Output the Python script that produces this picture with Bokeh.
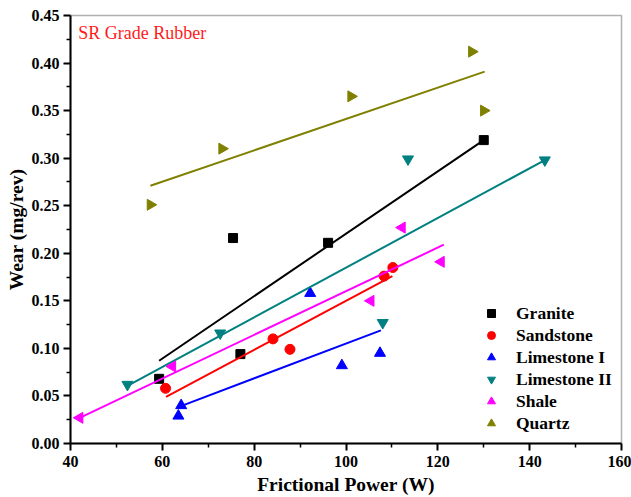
from bokeh.plotting import figure
from bokeh.models import Legend, LegendItem, Range1d, Label, FixedTicker, CustomJSTickFormatter
from bokeh.embed import file_html
from bokeh.resources import INLINE

# ---- data ----
granite_x = [59.3, 75.4, 77.0, 96.1, 130.0]
granite_y = [0.068, 0.216, 0.094, 0.211, 0.319]
granite_fit_x = [59.3, 130.0]
granite_fit_y = [0.087, 0.319]

sandstone_x = [60.7, 84.1, 87.8, 108.3, 110.2]
sandstone_y = [0.058, 0.110, 0.099, 0.176, 0.185]
sandstone_fit_x = [60.8, 110.1]
sandstone_fit_y = [0.049, 0.176]

lime1_x = [63.5, 64.1, 92.2, 99.1, 107.4]
lime1_y = [0.029, 0.040, 0.158, 0.082, 0.095]
lime1_fit_x = [63.9, 107.6]
lime1_fit_y = [0.039, 0.119]

lime2_x = [52.4, 72.6, 108.0, 113.5, 143.3]
lime2_y = [0.062, 0.116, 0.127, 0.299, 0.298]
lime2_fit_x = [52.6, 143.3]
lime2_fit_y = [0.061, 0.298]

shale_x = [42.0, 62.2, 105.4, 112.2, 120.7]
shale_y = [0.027, 0.081, 0.150, 0.227, 0.191]
shale_fit_x = [42.0, 121.3]
shale_fit_y = [0.027, 0.209]

quartz_x = [57.4, 73.0, 101.1, 127.4, 130.0]
quartz_y = [0.251, 0.310, 0.365, 0.412, 0.350]
quartz_fit_x = [57.4, 130.2]
quartz_fit_y = [0.271, 0.391]

x_ticks = [40, 60, 80, 100, 120, 140, 160]
x_minor = [50, 70, 90, 110, 130, 150]
y_ticks = [0.00, 0.05, 0.10, 0.15, 0.20, 0.25, 0.30, 0.35, 0.40, 0.45]
y_minor = [0.025, 0.075, 0.125, 0.175, 0.225, 0.275, 0.325, 0.375, 0.425]

SERIF = "Liberation Serif"

p = figure(width=631, height=497, output_backend="svg", toolbar_location=None,
           x_range=Range1d(40, 160), y_range=Range1d(0, 0.45),
           min_border_left=70, min_border_right=10, min_border_top=15, min_border_bottom=53)
p.xgrid.visible = False
p.ygrid.visible = False
p.outline_line_color = "#b0b0b0"
p.outline_line_width = 1.5
p.background_fill_color = "white"
p.border_fill_color = "white"

for ax in (p.xaxis[0], p.yaxis[0]):
    ax.axis_line_color = "black"
    ax.axis_line_width = 2
    ax.major_tick_line_color = "black"
    ax.major_tick_line_width = 2
    ax.minor_tick_line_color = "black"
    ax.minor_tick_line_width = 1.5
    ax.major_tick_out = 7
    ax.major_tick_in = 0
    ax.minor_tick_out = 4
    ax.minor_tick_in = 0
    ax.major_label_text_font = SERIF
    ax.major_label_text_font_style = "bold"
    ax.major_label_text_font_size = "16px"
    ax.major_label_text_color = "black"
    ax.axis_label_text_font = SERIF
    ax.axis_label_text_font_style = "bold"
    ax.axis_label_text_font_size = "19.5px"
    ax.axis_label_text_color = "black"

p.xaxis[0].ticker = FixedTicker(ticks=x_ticks, minor_ticks=x_minor)
p.yaxis[0].ticker = FixedTicker(ticks=y_ticks, minor_ticks=y_minor)
p.yaxis[0].formatter = CustomJSTickFormatter(code="return tick.toFixed(2);")
p.xaxis.axis_label = "Frictional Power (W)"
p.yaxis.axis_label = "Wear (mg/rev)"
p.xaxis.major_label_standoff = 5
p.yaxis.major_label_standoff = 4
p.xaxis.axis_label_standoff = 4
p.yaxis.axis_label_standoff = 2

series = [
    ("Granite", granite_x, granite_y, granite_fit_x, granite_fit_y, "black", "square", 9),
    ("Sandstone", sandstone_x, sandstone_y, sandstone_fit_x, sandstone_fit_y, "#ff0000", "circle", 10),
    ("Limestone I", lime1_x, lime1_y, lime1_fit_x, lime1_fit_y, "#0000ff", "triangle", 11),
    ("Limestone II", lime2_x, lime2_y, lime2_fit_x, lime2_fit_y, "#008080", "inverted_triangle", 11),
    ("Shale", shale_x, shale_y, shale_fit_x, shale_fit_y, "#ff00ff", "triangle", 11),
    ("Quartz", quartz_x, quartz_y, quartz_fit_x, quartz_fit_y, "#808000", "triangle", 11),
]
angles = {"Shale": 1.5708, "Quartz": -1.5708}

items = []
for name, xs, ys, fx, fy, col, mk, sz in series:
    p.line(fx, fy, line_color=col, line_width=2)
    r = p.scatter(xs, ys, marker=mk, size=sz, fill_color=col, line_color=col,
                  angle=angles.get(name, 0.0))
    items.append(LegendItem(label=name, renderers=[r]))

legend = Legend(items=items, location=(411, 9))
legend.background_fill_alpha = 0
legend.border_line_alpha = 0
legend.label_text_font = SERIF
legend.label_text_font_style = "bold"
legend.label_text_font_size = "17.5px"
legend.label_text_color = "black"
legend.label_height = 22
legend.glyph_height = 22
legend.glyph_width = 20
legend.label_standoff = 15
legend.spacing = 0
legend.padding = 0
legend.margin = 0
p.add_layout(legend)

p.add_layout(Label(x=41.7, y=0.4315, text="SR Grade Rubber", text_color="#ff1a1a",
                   text_font=SERIF, text_font_size="18px", text_baseline="middle"))

open("out.html", "w").write(file_html(p, INLINE))
